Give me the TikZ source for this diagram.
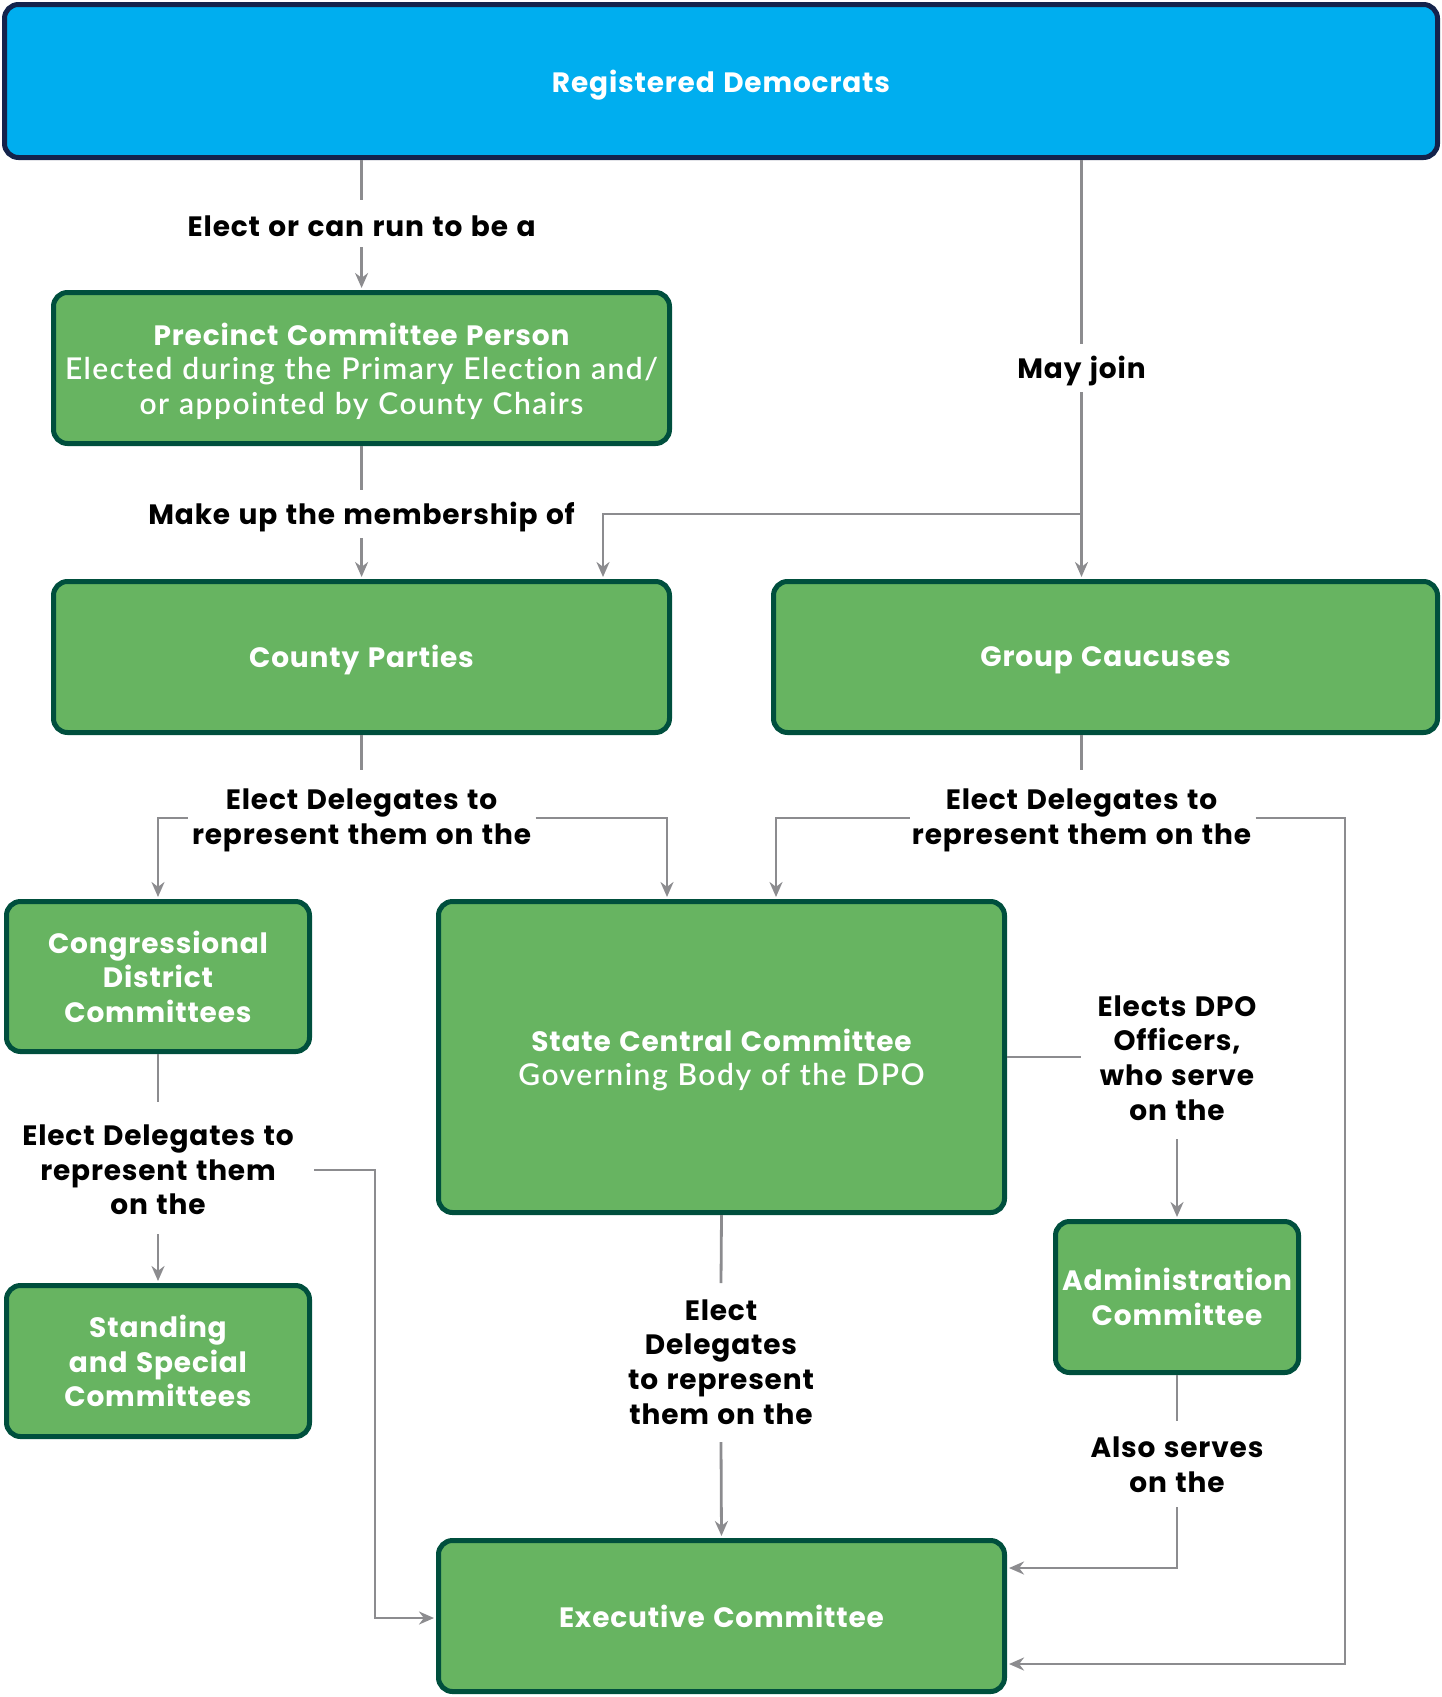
\documentclass[tikz,border=0pt]{standalone}
\usepackage{fontspec}
\setmainfont{Poppins}[LetterSpace=3,WordSpace=1.25]
\newfontfamily\lightf{Lato Light}[LetterSpace=5,WordSpace=1.1,Ligatures=NoCommon]
\usetikzlibrary{arrows.meta,calc}
\definecolor{cyanfill}{HTML}{00AEEF}
\definecolor{navy}{HTML}{14234B}
\definecolor{gfill}{HTML}{67B461}
\definecolor{gdraw}{HTML}{004F3D}
\definecolor{arr}{HTML}{8C8C8F}
\newcommand\bxfont{\fontsize{28}{34.6}\selectfont\bfseries}
\newcommand\ltfont{\fontsize{30}{34.6}\selectfont\lightf}
\begin{document}
\begin{tikzpicture}[x=1pt,y=-1pt,
 box/.style={draw=gdraw, fill=gfill, line width=5pt, rounded corners=14pt, text=white, font=\bxfont, align=center, inner sep=0pt},
 topbox/.style={box, draw=navy, fill=cyanfill},
 boxtext/.style={text=white, font=\bxfont, align=center, inner sep=0pt},
 lab/.style={font=\bxfont, align=center, inner sep=0pt, text=black},
 conn/.style={draw=arr, line width=2.8pt},
 arrowc/.style={conn, -{Stealth[length=15pt,width=13pt]}, shorten >=2pt}]
\useasboundingbox (0,0) rectangle (1442,1697);
% boxes
\node[topbox, minimum width=1433pt, minimum height=153pt] (top) at (721,81) {};
\node[boxtext] (toptext) at (721,85) {Registered Democrats};
\node[box, minimum width=616pt, minimum height=151pt] (prec) at (361.5,368) {};
\node[boxtext] (prectext) at (361.5,371) {Precinct Committee Person\\{\ltfont Elected during the Primary Election and/}\\{\ltfont or appointed by County Chairs}};
\node[box, minimum width=616pt, minimum height=151pt] (county) at (361.5,657) {};
\node[boxtext] (countytext) at (361.5,660) {County Parties};
\node[box, minimum width=664pt, minimum height=151pt] (group) at (1105.5,657) {};
\node[boxtext] (grouptext) at (1105.5,660) {Group Caucuses};
\node[box, minimum width=303pt, minimum height=150pt] (cong) at (158,976.5) {Congressional\\District\\Committees};
\node[box, minimum width=566pt, minimum height=311pt] (state) at (721.5,1057) {};
\node[boxtext] (statetext) at (721.5,1060) {State Central Committee\\{\ltfont Governing Body of the DPO}};
\node[box, minimum width=303pt, minimum height=151pt] (stand) at (158,1361) {Standing\\and Special\\Committees};
\node[box, minimum width=243pt, minimum height=151pt] (admin) at (1177,1297) {Administration\\Committee};
\node[box, minimum width=566pt, minimum height=151pt] (exec) at (721.5,1616) {Executive Committee};
% labels
\node[lab] (l1) at (361.6,226) {Elect or can run to be a};
\node[lab] (l2) at (1081.5,371) {May join};
\node[lab] (l3) at (361.6,517) {Make up the membership of};
\node[lab] (l4) at (361.6,820.5) {Elect Delegates to\\represent them on the};
\node[lab] (l5) at (1081.5,820.5) {Elect Delegates to\\represent them on the};
\node[lab] (l6) at (158,1170) {Elect Delegates to\\represent them\\on the};
\node[lab] (l7) at (1177,1058) {Elects DPO\\Officers,\\who serve\\on the};
\node[lab] (l8) at (721,1362) {Elect\\Delegates\\to represent\\them on the};
\node[lab] (l9) at (1177,1465) {Also serves\\on the};
% connectors
\draw[conn] (top.south -| l1) -- ($(l1.center)+(0,-26)$);
\draw[arrowc] ($(l1.center)+(0,21)$) -- (l1 |- prec.north);
\draw[conn] (top.south -| l2) -- ($(l2.center)+(0,-27)$);
\draw[arrowc] ($(l2.center)+(0,21)$) -- (l2 |- group.north);
\coordinate (bj) at (1081.5,514);
\draw[arrowc] (bj) -| ($(county.north east)+(-69,0)$);
\draw[conn] (prec.south -| l3) -- ($(l3.center)+(0,-27)$);
\draw[arrowc] ($(l3.center)+(0,21)$) -- (l3 |- county.north);
\draw[conn] (county.south -| l4) -- ($(l4.center)+(0,-51)$);
\draw[arrowc] ($(l4.center)+(-174,-2.5)$) -| (cong.north);
\draw[arrowc] ($(l4.center)+(174,-2.5)$) -| ($(state.north west)+(231,0)$);
\draw[conn] (group.south -| l5) -- ($(l5.center)+(0,-51)$);
\draw[arrowc] ($(l5.center)+(-172,-2.5)$) -| ($(state.north west)+(340,0)$);
\coordinate (rr) at (1345,1664);
\draw[arrowc] ($(l5.center)+(174,-2.5)$) -| (rr) -- (rr -| exec.east);
\draw[conn] (cong.south -| l6) -- ($(l6.center)+(0,-68)$);
\draw[arrowc] ($(l6.center)+(0,64)$) -- (l6 |- stand.north);
\coordinate (lr) at (375,1618);
\draw[arrowc] ($(l6.center)+(156,0)$) -| (lr) -- (lr -| exec.west);
\draw[conn] (state.east) -- ($(state.east -| l7.center)+(-96,0)$);
\draw[arrowc] ($(l7.center)+(0,81)$) -- (admin.north);
\draw[conn] (state.south) -- ($(l8.center)+(0,-79)$);
\draw[arrowc] ($(l8.center)+(0,80)$) -- (exec.north);
\draw[conn] (admin.south) -- ($(l9.center)+(0,-44)$);
\coordinate (ar) at (1177,1568);
\draw[arrowc] ($(l9.center)+(0,42)$) -- (ar) -- (ar -| exec.east);
\end{tikzpicture}
\end{document}
